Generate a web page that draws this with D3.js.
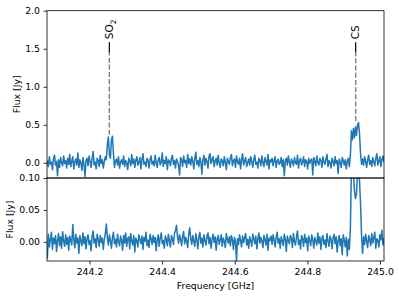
<!DOCTYPE html>
<html><head><meta charset="utf-8">
<script src="https://cdn.jsdelivr.net/npm/d3@7"></script>
<style>body{margin:0;background:#fff} text{font-family:"DejaVu Sans",sans-serif;fill:#000}</style>
</head><body><svg id="c" width="399" height="297"></svg>
<script>
// channel grid of the spectrum
const freqStart = 244.084, freqStep = 0.0028;
// full-scale spectrum (Jy)
const fluxTop = [
0.03,-0.05,0.08,-0.02,0.01,-0.09,0.05,0.10,-0.03,0.02,-0.17,0.04,-0.06,0.07,0.00,-0.04,0.09,-0.01,0.03,-0.07,
0.06,-0.02,0.11,-0.05,0.02,0.08,-0.08,0.01,0.05,-0.03,0.13,-0.06,0.04,0.00,-0.10,0.07,-0.02,-0.18,0.03,0.06,
-0.04,0.09,0.02,-0.06,0.05,0.15,-0.03,0.01,-0.08,0.06,0.03,-0.05,0.10,-0.01,0.04,-0.07,0.02,0.08,
0.04,0.24,0.34,0.10,0.06,0.30,0.35,0.12,-0.06,0.02,
0.05,-0.03,0.08,-0.07,0.01,0.04,-0.02,0.09,-0.05,0.03,0.00,-0.09,
0.06,0.02,-0.04,0.11,-0.01,0.05,-0.06,0.03,0.08,-0.03,0.00,0.07,-0.08,0.04,0.12,-0.02,0.01,-0.05,0.06,0.03,
-0.07,0.05,0.09,-0.02,0.02,-0.04,0.10,0.00,-0.06,0.04,0.07,-0.03,0.01,0.13,-0.05,0.03,-0.01,0.08,-0.09,0.04,
0.02,-0.04,0.06,0.10,-0.02,0.03,-0.07,0.05,0.01,-0.03,-0.16,0.07,0.04,-0.05,0.09,0.00,0.03,-0.06,0.11,-0.01,
0.05,-0.03,0.08,0.02,-0.08,0.06,0.14,-0.02,0.03,-0.05,0.07,0.01,-0.15,0.04,0.10,-0.03,0.06,0.02,-0.07,0.09,
0.12,-0.01,0.04,0.08,-0.05,0.02,0.06,-0.03,0.10,0.00,-0.06,0.05,0.03,-0.04,0.08,0.01,-0.09,0.06,0.02,-0.02,
0.07,0.11,-0.04,0.03,0.05,-0.06,0.09,0.01,-0.02,0.06,-0.08,0.04,0.12,-0.03,0.02,0.07,-0.05,0.00,0.05,-0.03,
0.08,0.02,-0.06,0.04,0.10,-0.02,0.01,-0.07,0.06,0.03,-0.04,0.09,0.00,-0.05,0.07,0.02,-0.03,0.11,-0.08,0.04,
0.01,0.06,-0.04,0.03,0.08,-0.06,0.02,0.05,-0.02,0.00,0.07,-0.05,0.04,-0.17,0.03,0.06,-0.03,0.09,0.01,-0.06,
0.05,0.02,-0.04,0.07,0.00,-0.02,0.10,-0.07,0.03,0.06,-0.03,0.01,0.08,-0.05,0.04,0.02,-0.08,0.06,-0.01,0.03,
0.05,-0.16,0.07,0.02,-0.04,0.09,0.00,-0.03,0.06,0.03,-0.06,0.08,0.01,-0.02,0.05,0.11,-0.05,0.03,0.00,-0.07,
0.06,0.02,-0.04,0.08,-0.01,0.03,-0.14,0.05,0.01,-0.06,0.07,0.03,-0.03,0.04,-0.08,0.02,0.06,-0.05,
0.10,0.42,0.30,0.45,0.33,0.47,0.36,0.50,0.53,0.38,0.12,-0.02,
0.05,-0.03,0.08,0.02,-0.06,0.04,0.10,-0.02,0.03,-0.05,0.07,0.01,-0.04,0.06,0.12,-0.03,0.02,0.08,-0.05,0.04,0.09,0.01
];
// zoomed spectrum (Jy)
const fluxZoom = [
-0.026,0.012,-0.008,0.004,0.015,-0.012,0.006,-0.003,0.010,-0.015,0.002,0.013,-0.006,0.008,-0.010,0.016,0.001,-0.007,0.011,-0.004,
0.007,-0.013,0.009,0.003,-0.005,0.027,0.004,-0.009,0.012,-0.002,0.006,-0.018,0.010,0.001,-0.006,0.014,-0.003,0.008,-0.011,0.005,
0.011,-0.004,0.002,-0.014,0.009,0.017,-0.002,0.005,-0.009,0.012,0.003,-0.007,0.010,-0.001,0.006,-0.012,0.004,0.013,0.028,0.006,
-0.005,0.011,0.002,-0.010,0.007,0.015,-0.003,0.004,-0.008,0.012,0.000,-0.006,0.009,0.003,-0.013,0.010,-0.002,0.014,-0.007,0.005,
0.008,-0.011,0.013,0.001,-0.005,0.010,-0.016,0.006,0.002,-0.008,0.011,0.004,-0.003,0.009,-0.012,0.007,0.001,0.015,-0.006,0.003,
-0.009,0.012,0.005,-0.004,0.010,-0.001,0.007,-0.014,0.003,0.011,-0.007,0.006,0.014,-0.003,0.002,-0.010,0.009,0.004,-0.006,0.012,
0.001,-0.008,0.010,0.005,-0.004,0.013,0.018,0.026,0.008,-0.002,0.011,0.004,-0.006,0.009,0.016,-0.003,0.007,0.002,-0.009,0.012,
0.022,0.005,-0.004,0.010,0.001,-0.007,0.013,0.003,-0.011,0.008,0.015,-0.002,0.006,-0.008,0.011,0.002,-0.005,0.009,0.014,-0.003,
0.007,-0.010,0.004,0.012,-0.001,0.008,-0.013,0.005,0.010,-0.004,0.003,0.011,-0.007,0.006,0.001,-0.009,0.013,0.004,-0.002,0.008,
-0.006,0.010,0.003,-0.012,0.007,0.001,-0.030,0.005,-0.004,0.011,0.002,-0.008,0.009,-0.001,0.006,0.013,-0.005,0.004,-0.010,0.008,
0.002,-0.007,0.012,0.005,-0.003,0.009,-0.011,0.004,0.014,-0.002,0.007,0.001,-0.009,0.010,0.003,-0.005,0.012,-0.013,0.006,0.002,
0.009,-0.004,0.011,0.003,-0.008,0.007,0.015,-0.002,0.005,-0.010,0.008,0.001,-0.006,0.012,0.004,-0.015,0.009,0.002,-0.003,0.010,
0.006,-0.009,0.013,0.000,-0.005,0.008,0.017,-0.004,0.003,-0.011,0.010,0.005,-0.007,0.012,-0.001,0.006,-0.014,0.009,0.002,-0.006,
0.011,0.004,-0.010,0.007,0.001,-0.005,0.014,-0.002,0.008,-0.012,0.005,0.010,-0.004,0.003,-0.009,0.013,0.001,-0.007,0.009,0.004,
-0.011,0.006,0.012,-0.003,0.008,-0.016,0.002,0.010,-0.006,0.005,-0.020,0.011,0.003,-0.008,0.007,-0.022,0.004,-0.012,
0.020,0.115,0.125,0.105,0.080,0.068,0.075,0.110,0.120,0.095,0.060,0.010,
-0.018,0.008,-0.004,0.012,0.001,-0.009,0.010,0.004,-0.006,0.013,-0.002,0.007,0.015,-0.010,0.005,0.002,-0.008,0.011,0.003,0.018,-0.005,0.006
];
const lineLabels = ["SO", "CS"];
const lineSubs = ["2", ""];
const lineFreqs = [244.2546, 244.9330];
const linePeaks = [0.37, 0.55];
const topTicks = [0, 0.5, 1.0, 1.5, 2.0];
const zoomTicks = [0, 0.05, 0.10];
const xTicks = [244.2, 244.4, 244.6, 244.8, 245.0];

const svg = d3.select("#c");
const L = 47, R = 384, T1 = 10.7, B1 = 178, B2 = 261;
const FS = 9.3;
const blue = "#1f77b4";

const x = d3.scaleLinear().domain([244.083, 245.011]).range([L, R]);
const yTop = d3.scaleLinear().domain([-0.2, 2.0]).range([B1, T1]);
const yZoom = d3.scaleLinear().domain([-0.03, 0.10]).range([B2, B1]);

const defs = svg.append("defs");
defs.append("clipPath").attr("id", "c1").append("rect").attr("x", L).attr("y", T1).attr("width", R - L).attr("height", B1 - T1);
defs.append("clipPath").attr("id", "c2").append("rect").attr("x", L).attr("y", B1).attr("width", R - L).attr("height", B2 - B1);

function drawLine(data, y, clip) {
  const line = d3.line().x((d, i) => x(freqStart + i * freqStep)).y(d => y(d));
  svg.append("path").attr("d", line(data)).attr("fill", "none").attr("stroke", blue)
    .attr("stroke-width", 1.5).attr("stroke-linejoin", "round").attr("clip-path", `url(#${clip})`);
}
drawLine(fluxTop, yTop, "c1");
drawLine(fluxZoom, yZoom, "c2");

// line identifications
lineFreqs.forEach((f, i) => {
  const px = x(f);
  svg.append("line").attr("x1", px).attr("x2", px).attr("y1", yTop(linePeaks[i])).attr("y2", yTop(1.45))
    .attr("stroke", "#7f7f7f").attr("stroke-width", 1.4).attr("stroke-dasharray", "5,2.2");
  svg.append("line").attr("x1", px).attr("x2", px).attr("y1", yTop(1.45)).attr("y2", yTop(1.585))
    .attr("stroke", "#000").attr("stroke-width", 1.2);
  const t = svg.append("text").attr("transform", `translate(${px},${yTop(1.585) - 3}) rotate(-90)`)
    .attr("dy", "0.36em").attr("font-size", 10.5).attr("text-anchor", "start");
  t.append("tspan").text(lineLabels[i]);
  if (lineSubs[i]) t.append("tspan").attr("font-size", 7.5).attr("dy", "0.35em").text(lineSubs[i]);
});

function yAxis(y, ticks, fmt) {
  const g = svg.append("g").attr("transform", `translate(${L},0)`)
    .call(d3.axisLeft(y).tickValues(ticks).tickFormat(d3.format(fmt)).tickSize(3.5).tickPadding(3.5));
  g.select(".domain").remove();
  g.selectAll("line").attr("stroke", "#000").attr("stroke-width", 0.8);
  g.selectAll("text").attr("font-size", FS).attr("font-family", "DejaVu Sans").attr("fill", "#000");
}
yAxis(yTop, topTicks, ".1f");
yAxis(yZoom, zoomTicks, ".2f");

const gx = svg.append("g").attr("transform", `translate(0,${B2})`)
  .call(d3.axisBottom(x).tickValues(xTicks).tickFormat(d3.format(".1f")).tickSize(3.5).tickPadding(3.5));
gx.select(".domain").remove();
gx.selectAll("line").attr("stroke", "#000").attr("stroke-width", 0.8);
gx.selectAll("text").attr("font-size", FS).attr("font-family", "DejaVu Sans").attr("fill", "#000");

// frames
svg.append("rect").attr("x", L).attr("y", T1).attr("width", R - L).attr("height", B1 - T1)
  .attr("fill", "none").attr("stroke", "#000").attr("stroke-width", 0.8);
svg.append("rect").attr("x", L).attr("y", B1).attr("width", R - L).attr("height", B2 - B1)
  .attr("fill", "none").attr("stroke", "#000").attr("stroke-width", 0.8);

// axis labels
svg.append("text").attr("transform", `translate(${L - 27},${(T1 + B1) / 2}) rotate(-90)`)
  .attr("text-anchor", "middle").attr("font-size", FS).text("Flux [Jy]");
svg.append("text").attr("transform", `translate(${L - 34},${(B1 + B2) / 2}) rotate(-90)`)
  .attr("text-anchor", "middle").attr("font-size", FS).text("Flux [Jy]");
svg.append("text").attr("x", (L + R) / 2).attr("y", 288.5)
  .attr("text-anchor", "middle").attr("font-size", FS).text("Frequency [GHz]");
</script></body></html>
